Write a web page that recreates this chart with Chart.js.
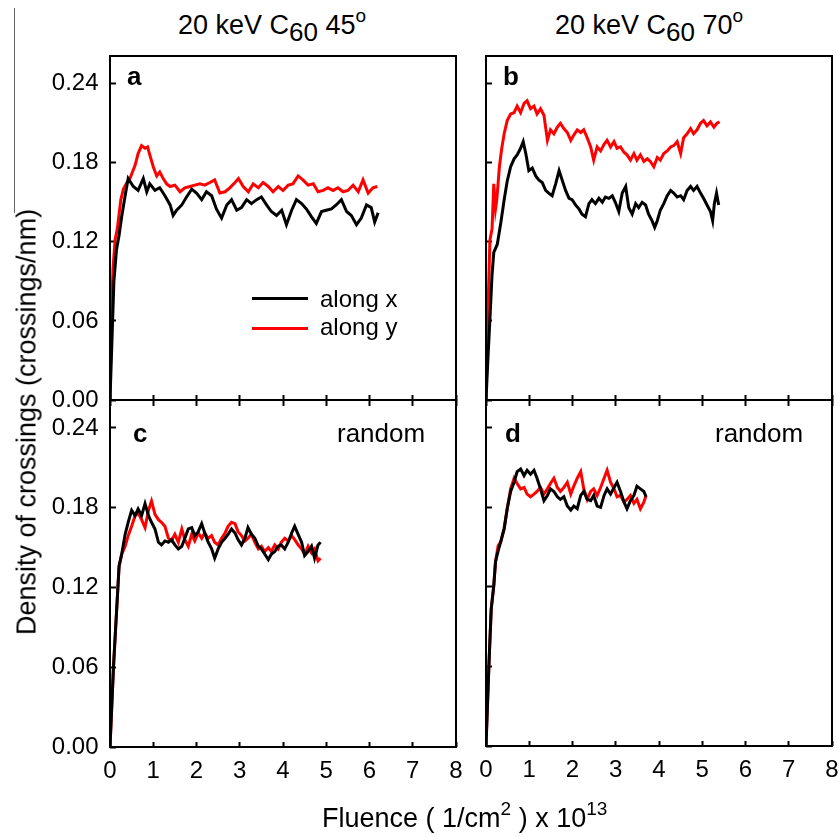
<!DOCTYPE html>
<html>
<head>
<meta charset="utf-8">
<script src="https://cdn.jsdelivr.net/npm/chart.js@4.4.0/dist/chart.umd.min.js"></script>
<style>
  body { margin: 0; background: #fff; }
  #fig { position: relative; width: 839px; height: 837px; overflow: hidden; font-family: "Liberation Sans", Arial, sans-serif; color: #000; }
  #fig canvas { position: absolute; }
  .txt { position: absolute; font-size: 24px; line-height: 24px; white-space: nowrap; }
  .big { font-size: 27px; line-height: 27px; }
  .panel-id { font-weight: bold; font-size: 26px; line-height: 26px; }
  .title sub { font-size: 26px; vertical-align: -7px; line-height: 0; }
  .title sup, .xlab sup { font-size: 19px; vertical-align: 12px; line-height: 0; }
  .leg-line { position: absolute; width: 56px; height: 0; border-top: 3px solid; }
  #edge { position: absolute; left: 14px; top: 8px; width: 0; height: 205px; border-left: 1px solid #666; }
</style>
</head>
<body>
<div id="fig">
  <div id="edge"></div>

  <div class="txt big title" style="left:178px; top:12px;">20 keV C<sub>60</sub> 45<sup>o</sup></div>
  <div class="txt big title" style="left:555px; top:12px;">20 keV C<sub>60</sub> 70<sup>o</sup></div>

  <canvas id="panelA" width="446" height="364" style="left:20px; top:46px;"></canvas>
  <canvas id="panelB" width="372" height="364" style="left:466px; top:46px;"></canvas>
  <canvas id="panelC" width="446" height="447" style="left:20px; top:390px;"></canvas>
  <canvas id="panelD" width="372" height="447" style="left:466px; top:390px;"></canvas>

  <div class="txt panel-id" style="left:127px; top:63px;">a</div>
  <div class="txt panel-id" style="left:503px; top:63px;">b</div>
  <div class="txt panel-id" style="left:133px; top:420px;">c</div>
  <div class="txt panel-id" style="left:505px; top:420px;">d</div>
  <div class="txt" style="left:337px; top:421px; font-size:26px;">random</div>
  <div class="txt" style="left:715px; top:421px; font-size:26px;">random</div>

  <div class="leg-line" style="left:252px; top:297px; border-color:#000;"></div>
  <div class="txt" style="left:320px; top:287px;">along x</div>
  <div class="leg-line" style="left:252px; top:327px; border-color:#ff0000;"></div>
  <div class="txt" style="left:320px; top:315px;">along y</div>

  <div class="txt big" style="left:27px; top:422px; transform: translate(-50%, -50%) rotate(-90deg);">Density of crossings (crossings/nm)</div>
  <div class="txt big xlab" style="left:322px; top:805px;">Fluence ( 1/cm<sup>2</sup> ) x 10<sup>13</sup></div>
</div>

<script>
// axis ticks
const fluenceTicks = [0, 1, 2, 3, 4, 5, 6, 7, 8];
const densityTicks = [0, 0.06, 0.12, 0.18, 0.24];

// panel a : 20 keV C60 45 deg
const aFluenceX = [0, 0.05, 0.09, 0.15, 0.21, 0.27, 0.35, 0.42, 0.54, 0.65, 0.77, 0.85, 0.92, 1.04, 1.15, 1.27, 1.39, 1.46, 1.54, 1.66, 1.77, 1.89, 2.00, 2.12, 2.23, 2.35, 2.46, 2.58, 2.70, 2.81, 2.93, 3.04, 3.16, 3.27, 3.39, 3.50, 3.62, 3.73, 3.85, 3.97, 4.08, 4.20, 4.31, 4.43, 4.54, 4.66, 4.77, 4.89, 5.00, 5.12, 5.23, 5.35, 5.47, 5.58, 5.70, 5.81, 5.93, 6.04, 6.12, 6.20];
const aAlongX = [0, 0.05, 0.09, 0.114, 0.125, 0.139, 0.155, 0.168, 0.162, 0.159, 0.168, 0.158, 0.164, 0.159, 0.161, 0.155, 0.148, 0.140, 0.144, 0.148, 0.154, 0.160, 0.157, 0.152, 0.158, 0.155, 0.145, 0.138, 0.148, 0.152, 0.144, 0.146, 0.152, 0.149, 0.152, 0.154, 0.148, 0.143, 0.140, 0.144, 0.133, 0.144, 0.152, 0.149, 0.145, 0.139, 0.134, 0.143, 0.144, 0.145, 0.148, 0.152, 0.143, 0.140, 0.133, 0.138, 0.148, 0.146, 0.135, 0.142];
const aFluenceY = [0, 0.03, 0.07, 0.12, 0.17, 0.25, 0.31, 0.39, 0.46, 0.58, 0.65, 0.73, 0.81, 0.87, 0.92, 1.00, 1.08, 1.15, 1.23, 1.31, 1.39, 1.50, 1.62, 1.73, 1.85, 1.96, 2.08, 2.19, 2.31, 2.42, 2.54, 2.66, 2.77, 2.89, 2.97, 3.08, 3.20, 3.31, 3.43, 3.54, 3.66, 3.77, 3.89, 4.00, 4.12, 4.23, 4.35, 4.46, 4.58, 4.70, 4.81, 4.93, 5.04, 5.16, 5.27, 5.39, 5.50, 5.62, 5.74, 5.85, 5.97, 6.08, 6.18];
const aAlongY = [0, 0.06, 0.10, 0.122, 0.13, 0.152, 0.160, 0.165, 0.168, 0.178, 0.187, 0.193, 0.191, 0.192, 0.186, 0.177, 0.170, 0.173, 0.168, 0.164, 0.162, 0.163, 0.158, 0.161, 0.162, 0.163, 0.164, 0.163, 0.165, 0.167, 0.157, 0.158, 0.161, 0.165, 0.168, 0.162, 0.158, 0.164, 0.161, 0.165, 0.162, 0.158, 0.162, 0.159, 0.163, 0.164, 0.170, 0.167, 0.163, 0.164, 0.158, 0.159, 0.161, 0.159, 0.161, 0.158, 0.159, 0.163, 0.158, 0.167, 0.157, 0.161, 0.162];

// panel b : 20 keV C60 70 deg
const bFluenceX = [0, 0.05, 0.09, 0.14, 0.18, 0.26, 0.34, 0.42, 0.49, 0.57, 0.65, 0.72, 0.80, 0.86, 0.92, 0.99, 1.07, 1.15, 1.22, 1.30, 1.38, 1.45, 1.53, 1.61, 1.69, 1.76, 1.84, 1.92, 1.99, 2.07, 2.15, 2.22, 2.30, 2.38, 2.45, 2.53, 2.61, 2.69, 2.76, 2.84, 2.92, 2.99, 3.07, 3.15, 3.23, 3.30, 3.38, 3.46, 3.53, 3.61, 3.69, 3.76, 3.84, 3.90, 3.96, 4.03, 4.11, 4.19, 4.27, 4.34, 4.42, 4.50, 4.57, 4.65, 4.73, 4.80, 4.88, 4.96, 5.03, 5.11, 5.19, 5.24, 5.28, 5.33, 5.38];
const bAlongX = [0, 0.035, 0.061, 0.095, 0.112, 0.118, 0.134, 0.152, 0.166, 0.177, 0.183, 0.186, 0.191, 0.196, 0.187, 0.174, 0.176, 0.170, 0.167, 0.165, 0.159, 0.157, 0.155, 0.164, 0.174, 0.167, 0.159, 0.153, 0.152, 0.148, 0.145, 0.141, 0.139, 0.149, 0.152, 0.149, 0.153, 0.150, 0.154, 0.153, 0.155, 0.150, 0.143, 0.157, 0.162, 0.146, 0.141, 0.149, 0.146, 0.150, 0.148, 0.141, 0.136, 0.131, 0.136, 0.144, 0.149, 0.155, 0.159, 0.157, 0.154, 0.155, 0.152, 0.159, 0.162, 0.159, 0.162, 0.157, 0.153, 0.148, 0.143, 0.136, 0.149, 0.157, 0.148];
const bFluenceY = [0, 0.04, 0.09, 0.14, 0.18, 0.22, 0.25, 0.31, 0.36, 0.42, 0.49, 0.57, 0.65, 0.72, 0.80, 0.88, 0.95, 1.03, 1.11, 1.18, 1.26, 1.34, 1.42, 1.49, 1.57, 1.65, 1.72, 1.80, 1.88, 1.96, 2.03, 2.11, 2.19, 2.26, 2.34, 2.42, 2.49, 2.57, 2.65, 2.73, 2.80, 2.88, 2.96, 3.03, 3.11, 3.19, 3.26, 3.34, 3.42, 3.49, 3.57, 3.65, 3.73, 3.80, 3.88, 3.96, 4.03, 4.11, 4.19, 4.27, 4.34, 4.42, 4.50, 4.57, 4.65, 4.73, 4.80, 4.88, 4.96, 5.03, 5.11, 5.19, 5.27, 5.34, 5.40];
const bAlongY = [0, 0.06, 0.121, 0.13, 0.164, 0.145, 0.152, 0.177, 0.19, 0.202, 0.212, 0.217, 0.218, 0.223, 0.218, 0.225, 0.227, 0.221, 0.223, 0.217, 0.221, 0.216, 0.197, 0.205, 0.202, 0.207, 0.210, 0.206, 0.203, 0.197, 0.201, 0.205, 0.203, 0.205, 0.199, 0.192, 0.182, 0.192, 0.189, 0.194, 0.197, 0.192, 0.196, 0.191, 0.192, 0.188, 0.186, 0.182, 0.187, 0.182, 0.186, 0.181, 0.183, 0.181, 0.177, 0.184, 0.182, 0.187, 0.189, 0.192, 0.193, 0.196, 0.187, 0.199, 0.202, 0.206, 0.202, 0.205, 0.210, 0.212, 0.208, 0.211, 0.207, 0.210, 0.211];

// panel c : 45 deg, random
const cFluence = [0, 0.04, 0.08, 0.15, 0.21, 0.27, 0.35, 0.42, 0.50, 0.58, 0.65, 0.73, 0.81, 0.89, 0.96, 1.04, 1.12, 1.19, 1.27, 1.35, 1.42, 1.50, 1.58, 1.66, 1.73, 1.81, 1.89, 1.96, 2.04, 2.12, 2.19, 2.27, 2.35, 2.42, 2.50, 2.58, 2.66, 2.73, 2.81, 2.89, 2.96, 3.04, 3.12, 3.19, 3.27, 3.35, 3.43, 3.50, 3.58, 3.66, 3.73, 3.81, 3.89, 3.96, 4.04, 4.12, 4.20, 4.27, 4.35, 4.43, 4.50, 4.58, 4.66, 4.73, 4.81, 4.87];
const cAlongX = [0, 0.03, 0.06, 0.101, 0.136, 0.145, 0.160, 0.169, 0.178, 0.174, 0.179, 0.174, 0.183, 0.174, 0.169, 0.164, 0.154, 0.152, 0.155, 0.154, 0.156, 0.152, 0.149, 0.151, 0.157, 0.164, 0.165, 0.159, 0.162, 0.168, 0.161, 0.154, 0.149, 0.142, 0.149, 0.154, 0.157, 0.160, 0.164, 0.161, 0.156, 0.152, 0.157, 0.165, 0.160, 0.157, 0.151, 0.149, 0.145, 0.141, 0.145, 0.147, 0.151, 0.152, 0.149, 0.154, 0.161, 0.166, 0.160, 0.154, 0.144, 0.147, 0.151, 0.142, 0.152, 0.154];
const cAlongY = [0, 0.03, 0.06, 0.101, 0.136, 0.145, 0.151, 0.159, 0.166, 0.174, 0.176, 0.171, 0.165, 0.178, 0.185, 0.175, 0.171, 0.169, 0.166, 0.157, 0.155, 0.160, 0.154, 0.164, 0.156, 0.151, 0.160, 0.155, 0.161, 0.157, 0.161, 0.157, 0.159, 0.154, 0.152, 0.157, 0.161, 0.166, 0.169, 0.168, 0.162, 0.159, 0.155, 0.157, 0.160, 0.154, 0.149, 0.151, 0.147, 0.150, 0.147, 0.152, 0.149, 0.154, 0.157, 0.155, 0.159, 0.156, 0.152, 0.149, 0.145, 0.151, 0.146, 0.149, 0.140, 0.142];

// panel d : 70 deg, random
const dFluence = [0, 0.07, 0.12, 0.18, 0.22, 0.28, 0.34, 0.42, 0.49, 0.57, 0.65, 0.72, 0.80, 0.88, 0.95, 1.03, 1.11, 1.18, 1.26, 1.34, 1.42, 1.49, 1.57, 1.65, 1.72, 1.80, 1.88, 1.96, 2.03, 2.11, 2.19, 2.26, 2.34, 2.42, 2.49, 2.57, 2.65, 2.73, 2.80, 2.88, 2.96, 3.03, 3.11, 3.19, 3.26, 3.34, 3.42, 3.49, 3.57, 3.65, 3.70];
const dAlongX = [0, 0.063, 0.103, 0.121, 0.139, 0.147, 0.154, 0.164, 0.179, 0.192, 0.199, 0.207, 0.209, 0.204, 0.208, 0.205, 0.208, 0.202, 0.194, 0.185, 0.189, 0.194, 0.192, 0.188, 0.186, 0.188, 0.181, 0.178, 0.181, 0.179, 0.189, 0.192, 0.186, 0.185, 0.189, 0.181, 0.180, 0.189, 0.194, 0.190, 0.195, 0.199, 0.192, 0.184, 0.179, 0.185, 0.189, 0.196, 0.194, 0.192, 0.188];
const dAlongY = [0, 0.063, 0.103, 0.121, 0.139, 0.151, 0.154, 0.164, 0.179, 0.194, 0.202, 0.198, 0.194, 0.195, 0.190, 0.188, 0.190, 0.192, 0.195, 0.190, 0.194, 0.198, 0.202, 0.195, 0.192, 0.195, 0.199, 0.190, 0.196, 0.202, 0.207, 0.194, 0.186, 0.192, 0.194, 0.189, 0.195, 0.202, 0.208, 0.199, 0.194, 0.188, 0.189, 0.184, 0.186, 0.189, 0.183, 0.186, 0.179, 0.184, 0.189];

const tickFont = { family: '"Liberation Sans", Arial, sans-serif', size: 24, lineHeight: 1 };

function pts(xs, ys) {
  return xs.map((x, i) => ({ x: x, y: ys[i] }));
}

// fixed axis size, no extra room for labels that stick out
function fixSize(s, w, h) {
  if (w !== null) s.width = w;
  if (h !== null) s.height = h;
  s.paddingLeft = 0; s.paddingRight = 0; s.paddingTop = 0; s.paddingBottom = 0;
}

// box round the plot area
const frame = {
  id: 'frame',
  afterDraw(chart) {
    const { ctx, chartArea: a } = chart;
    ctx.save();
    ctx.strokeStyle = '#000';
    ctx.lineWidth = 2;
    ctx.strokeRect(a.left, a.top, a.right - a.left, a.bottom - a.top);
    ctx.restore();
  }
};

function drawPanel(id, blackPts, redPts, opt) {
  const scales = {
    x: {
      type: 'linear', min: 0, max: 8,
      afterBuildTicks: s => { s.ticks = fluenceTicks.map(v => ({ value: v })); },
      afterFit: s => fixSize(s, null, opt.xHeight),
      border: { display: false },
      grid: { drawOnChartArea: false, tickLength: -5, tickWidth: 2, tickColor: '#000' },
      ticks: { display: opt.xLabels, autoSkip: false, maxRotation: 0, padding: 17, color: '#000', font: tickFont }
    },
    y: {
      type: 'linear', min: 0, max: 0.261,
      afterBuildTicks: s => { s.ticks = densityTicks.map(v => ({ value: v })); },
      afterFit: s => fixSize(s, opt.yWidth, null),
      border: { display: false },
      grid: { drawOnChartArea: false, tickLength: -6, tickWidth: 2, tickColor: '#000' },
      ticks: { display: opt.yLabels, autoSkip: false, padding: 17.5, color: '#000', font: tickFont,
               callback: v => v.toFixed(2) }
    }
  };
  if (opt.topTicks) {
    scales.x2 = {
      axis: 'x', position: 'top', type: 'linear', min: 0, max: 8,
      afterBuildTicks: s => { s.ticks = fluenceTicks.map(v => ({ value: v })); },
      afterFit: s => fixSize(s, null, 0),
      border: { display: false },
      grid: { drawOnChartArea: false, tickLength: -6, tickWidth: 2, tickColor: '#000' },
      ticks: { display: false }
    };
  }
  new Chart(document.getElementById(id), {
    type: 'line',
    data: {
      datasets: [
        { label: 'along x', data: blackPts, borderColor: '#000000', borderWidth: 3, pointRadius: 0, tension: 0 },
        { label: 'along y', data: redPts, borderColor: '#ff0000', borderWidth: 3, pointRadius: 0, tension: 0 }
      ]
    },
    options: {
      responsive: false,
      animation: false,
      events: [],
      layout: { padding: opt.padding },
      plugins: { legend: { display: false }, tooltip: { enabled: false } },
      scales: scales
    },
    plugins: [frame]
  });
}

drawPanel('panelA', pts(aFluenceX, aAlongX), pts(aFluenceY, aAlongY),
  { xLabels: false, yLabels: true, xHeight: 10, yWidth: 90, topTicks: false, padding: { top: 10, right: 10, left: 0, bottom: 0 } });
drawPanel('panelB', pts(bFluenceX, bAlongX), pts(bFluenceY, bAlongY),
  { xLabels: false, yLabels: false, xHeight: 10, yWidth: 20, topTicks: false, padding: { top: 10, right: 6, left: 0, bottom: 0 } });
drawPanel('panelC', pts(cFluence, cAlongX), pts(cFluence, cAlongY),
  { xLabels: true, yLabels: true, xHeight: 90, yWidth: 90, topTicks: true, padding: { top: 10, right: 10, left: 0, bottom: 0 } });
drawPanel('panelD', pts(dFluence, dAlongX), pts(dFluence, dAlongY),
  { xLabels: true, yLabels: false, xHeight: 91, yWidth: 20, topTicks: true, padding: { top: 10, right: 6, left: 0, bottom: 0 } });
</script>
</body>
</html>
